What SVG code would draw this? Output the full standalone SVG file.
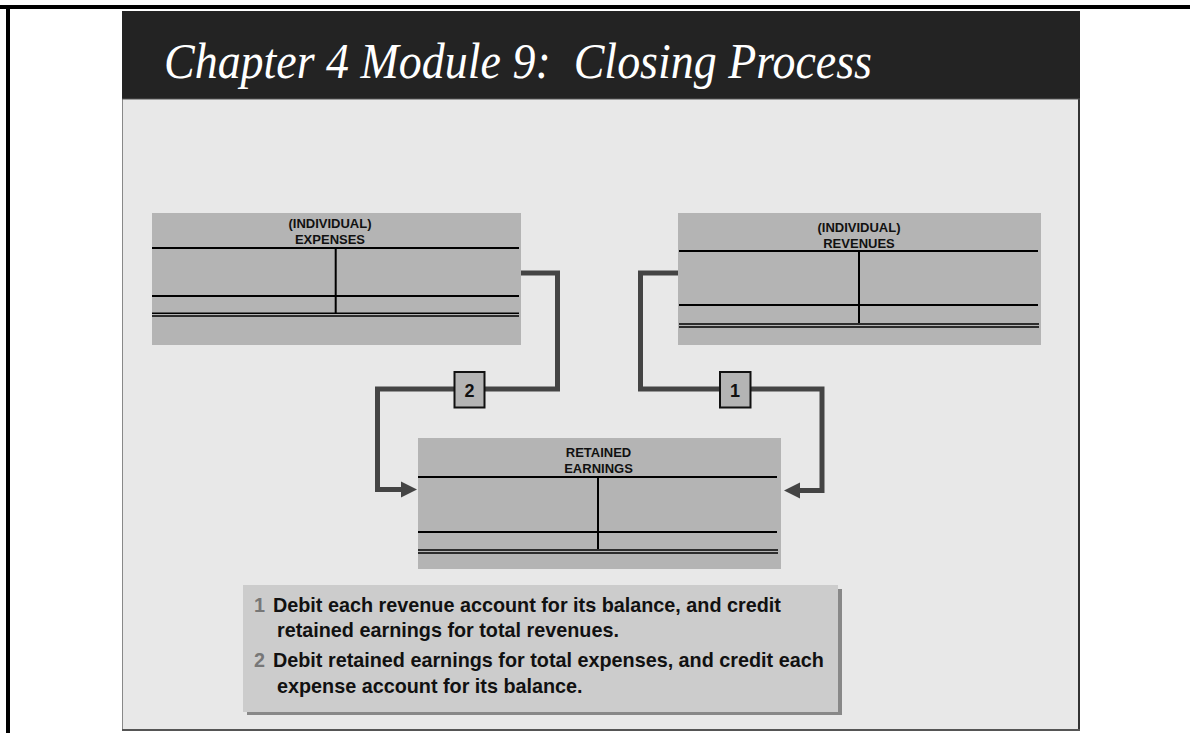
<svg xmlns="http://www.w3.org/2000/svg" width="1190" height="733" viewBox="0 0 1190 733">
<style>
.tl{stroke:#000;stroke-width:2;fill:none}
.dl{stroke:#000;stroke-width:1.6;fill:none}
.acct{fill:#b4b4b4}
.hd{font-family:"Liberation Sans",Arial,sans-serif;font-weight:bold;font-size:13px;fill:#111;text-anchor:middle}
.conn{stroke:#444;stroke-width:5;fill:none;stroke-linejoin:miter;stroke-linecap:butt}
.ah{fill:#444}
.num{fill:#b4b4b4;stroke:#111;stroke-width:2}
.numt{font-family:"Liberation Sans",Arial,sans-serif;font-weight:bold;font-size:18px;fill:#111;text-anchor:middle}
.note{font-family:"Liberation Sans",Arial,sans-serif;font-weight:bold;font-size:19.8px;fill:#111}
.ng{fill:#777}
</style>
<rect x="0" y="0" width="1190" height="733" fill="#fff"/>
<rect x="0" y="5" width="1190" height="4" fill="#000"/>
<rect x="6" y="5" width="4" height="728" fill="#000"/>
<g id="slide">
<rect x="122" y="99" width="958" height="631" fill="#e8e8e8"/>
<line x1="122.5" y1="99" x2="122.5" y2="730" stroke="#888" stroke-width="1"/>
<line x1="1079" y1="99" x2="1079" y2="731" stroke="#333" stroke-width="2"/>
<line x1="122" y1="730" x2="1080" y2="730" stroke="#555" stroke-width="2"/>
<rect x="122" y="11" width="958" height="88" fill="#232323"/>
<line x1="122" y1="99" x2="1080" y2="99" stroke="#555" stroke-width="1"/>
<text x="164" y="78" xml:space="preserve" font-family="'Liberation Serif','Times New Roman',serif" font-style="italic" font-size="50" fill="#fff" textLength="708" lengthAdjust="spacingAndGlyphs">Chapter 4 Module 9:  Closing Process</text>
</g>
<g id="expenses">
<rect class="acct" x="152" y="213" width="369" height="132"/>
<text class="hd" x="330" y="228">(INDIVIDUAL)</text>
<text class="hd" x="330" y="244">EXPENSES</text>
<line class="tl" x1="152" y1="248" x2="519" y2="248"/>
<line class="tl" x1="335.7" y1="248" x2="335.7" y2="314"/>
<line class="tl" x1="152" y1="296" x2="519" y2="296"/>
<line class="dl" x1="152" y1="313.3" x2="519" y2="313.3"/>
<line class="dl" x1="152" y1="316" x2="519" y2="316"/>
</g>
<g id="revenues">
<rect class="acct" x="678" y="213" width="363" height="132"/>
<text class="hd" x="859" y="232">(INDIVIDUAL)</text>
<text class="hd" x="859" y="248">REVENUES</text>
<line class="tl" x1="679" y1="251" x2="1038" y2="251"/>
<line class="tl" x1="859" y1="251" x2="859" y2="323"/>
<line class="tl" x1="679" y1="305" x2="1038" y2="305"/>
<line class="dl" x1="679" y1="324" x2="1039" y2="324"/>
<line class="dl" x1="679" y1="327" x2="1039" y2="327"/>
</g>
<g id="retained">
<rect class="acct" x="418" y="438" width="363" height="131"/>
<text class="hd" x="598.5" y="457">RETAINED</text>
<text class="hd" x="598.5" y="473">EARNINGS</text>
<line class="tl" x1="418" y1="477" x2="777" y2="477"/>
<line class="tl" x1="598" y1="477" x2="598" y2="549"/>
<line class="tl" x1="418" y1="532" x2="777" y2="532"/>
<line class="dl" x1="418" y1="550" x2="778" y2="550"/>
<line class="dl" x1="418" y1="553" x2="778" y2="553"/>
</g>
<g id="connectors">
<path class="conn" d="M521 273 H557.5 V389 H377.5 V489.5 H402"/>
<polygon class="ah" points="401,481.5 417,489.5 401,497.5"/>
<path class="conn" d="M678 273 H640.5 V389 H822 V490.5 H799"/>
<polygon class="ah" points="800,482.5 784,490.5 800,498.5"/>
</g>
<g id="step2">
<rect class="num" x="454.5" y="372" width="30" height="35.5"/>
<text class="numt" x="469.5" y="396.5">2</text>
</g>
<g id="step1">
<rect class="num" x="720" y="372" width="30.5" height="35.5"/>
<text class="numt" x="735" y="396.5">1</text>
</g>
<g id="notes">
<rect x="247" y="589" width="595" height="126" fill="#888"/>
<rect x="243" y="585" width="595" height="127" fill="#cccccc"/>
<text class="note" y="611.5"><tspan class="ng" x="254">1</tspan><tspan x="273">Debit each revenue account for its balance, and credit</tspan></text>
<text class="note" x="277" y="636.5">retained earnings for total revenues.</text>
<text class="note" y="666.5"><tspan class="ng" x="254">2</tspan><tspan x="273">Debit retained earnings for total expenses, and credit each</tspan></text>
<text class="note" x="277" y="693">expense account for its balance.</text>
</g>
</svg>
